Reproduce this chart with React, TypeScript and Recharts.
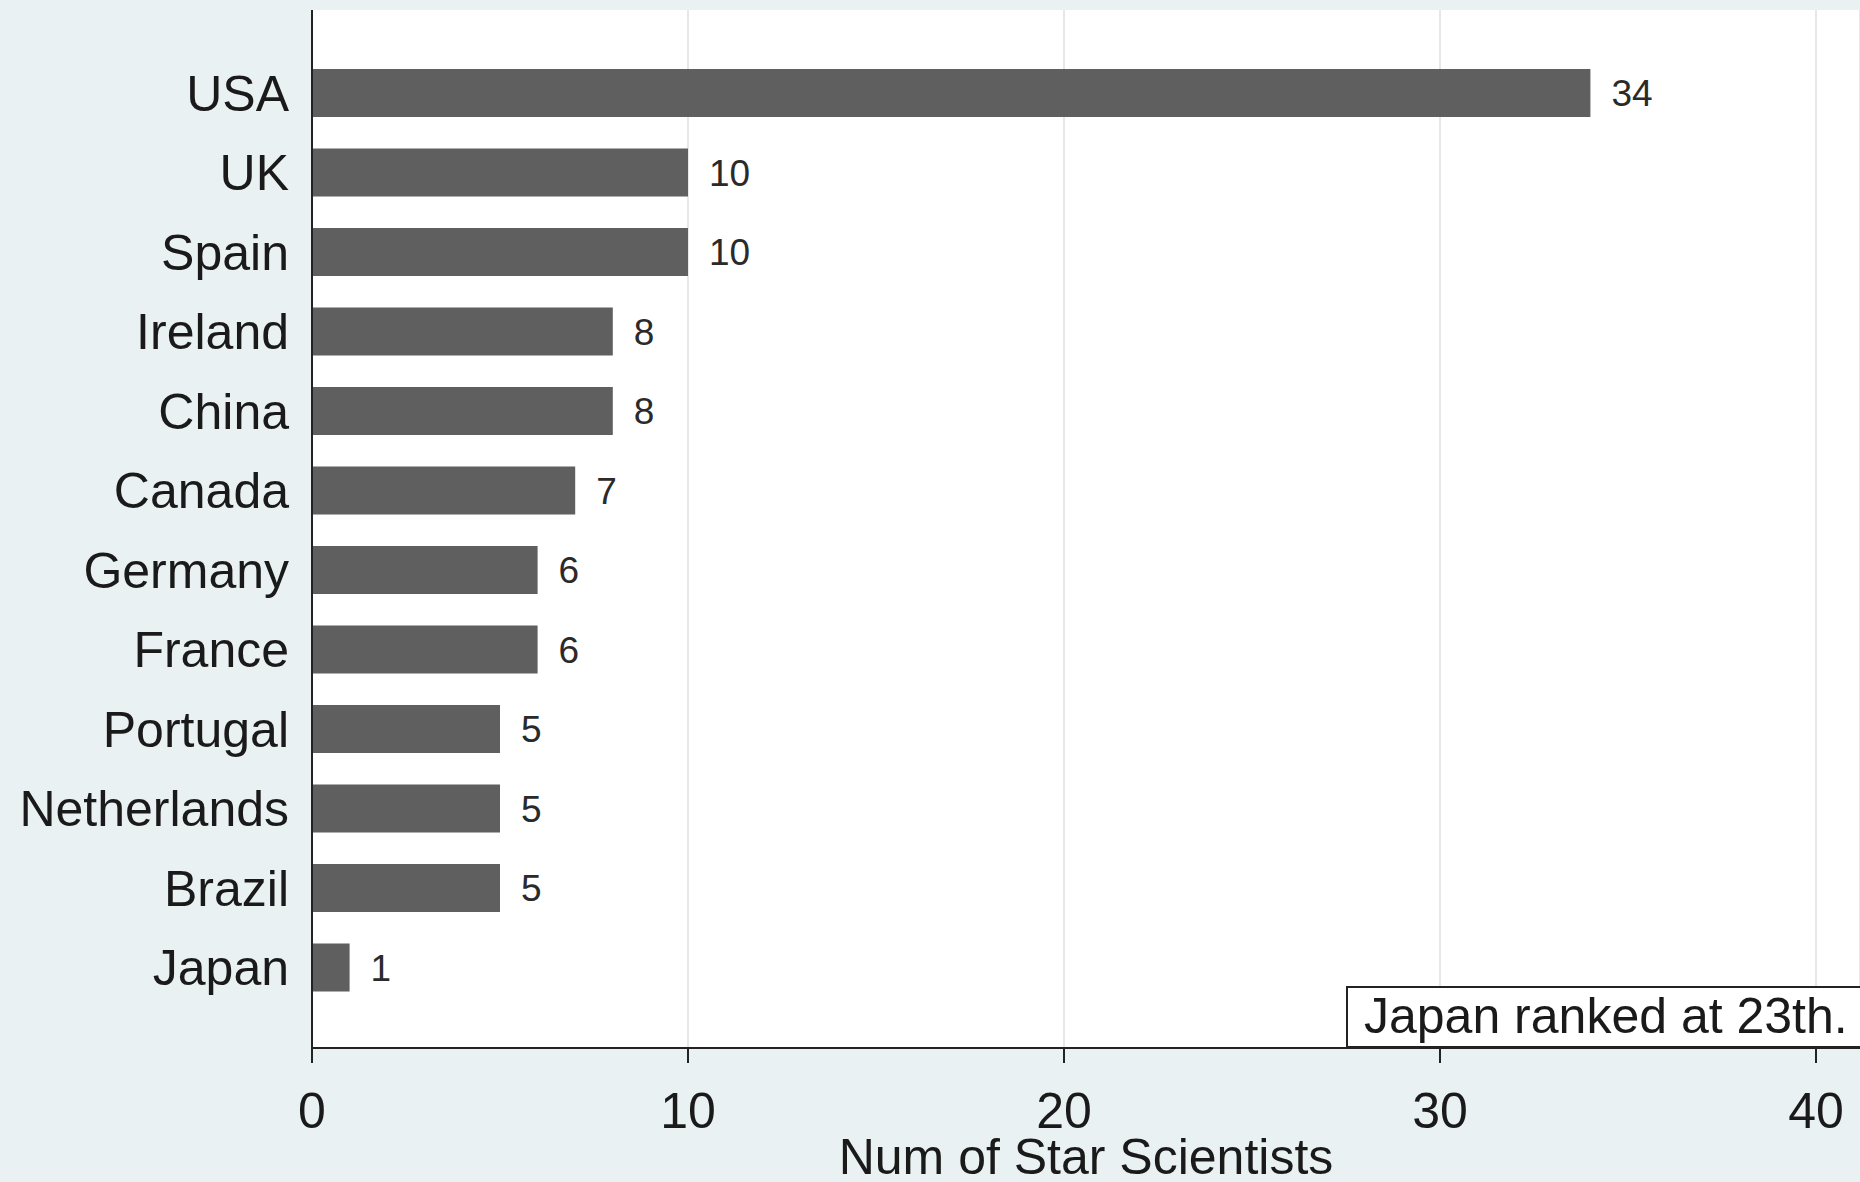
import React from "react";
import { BarChart, Bar, XAxis, YAxis, CartesianGrid, LabelList } from "recharts";

// Countries in ranking order, top to bottom
const countries = [
  "USA", "UK", "Spain", "Ireland", "China", "Canada",
  "Germany", "France", "Portugal", "Netherlands", "Brazil", "Japan",
];
const starScientists = [34, 10, 10, 8, 8, 7, 6, 6, 5, 5, 5, 1];
const xTicks = [0, 10, 20, 30, 40];
const xTitle = "Num of Star Scientists";
const note = "Japan ranked at 23th.";

const FONT = '"Liberation Sans", Arial, sans-serif';

const App: React.FC = () => {
  const data = countries.map((country, i) => ({ country, value: starScientists[i] }));

  return (
    <div
      style={{
        position: "absolute",
        left: 0,
        top: 0,
        width: 1860,
        height: 1182,
        overflow: "hidden",
        background: "#eaf1f3",
        fontFamily: FONT,
      }}
    >
      <BarChart
        width={1860}
        height={1182}
        data={data}
        layout="vertical"
        margin={{ top: 10, right: 0, left: 0, bottom: 0 }}
        barCategoryGap="20%"
      >
        <CartesianGrid horizontal={false} stroke="#e4e8ea" strokeWidth={2} fill="#ffffff" />
        <XAxis
          type="number"
          domain={[0, 41.17]}
          ticks={xTicks}
          height={134}
          tickSize={15}
          tickMargin={29}
          axisLine={{ stroke: "#222", strokeWidth: 2 }}
          tickLine={{ stroke: "#222", strokeWidth: 2 }}
          tick={{ fontSize: 50, fill: "#1a1a1a", fontFamily: FONT }}
          label={{ value: xTitle, position: "insideBottom", offset: 8, fontSize: 50, fill: "#1a1a1a", fontFamily: FONT }}
        />
        <YAxis
          type="category"
          dataKey="country"
          width={312}
          padding={{ top: 43, bottom: 41 }}
          tickSize={0}
          tickMargin={23}
          tickLine={false}
          axisLine={{ stroke: "#222", strokeWidth: 2 }}
          tick={{ fontSize: 50, fill: "#1a1a1a", fontFamily: FONT }}
          interval={0}
        />
        <Bar dataKey="value" fill="#5f5f5f" isAnimationActive={false}>
          <LabelList dataKey="value" position="right" offset={21} fontSize={37} fill="#2a2a2a" fontFamily={FONT} />
        </Bar>
      </BarChart>
      <div
        style={{
          position: "absolute",
          left: 1346,
          top: 986,
          width: 540,
          height: 62,
          boxSizing: "border-box",
          border: "2px solid #222",
          background: "#ffffff",
          fontSize: 50,
          lineHeight: "56px",
          paddingLeft: 16,
          color: "#1a1a1a",
          whiteSpace: "nowrap",
        }}
      >
        {note}
      </div>
    </div>
  );
};

export default App;
